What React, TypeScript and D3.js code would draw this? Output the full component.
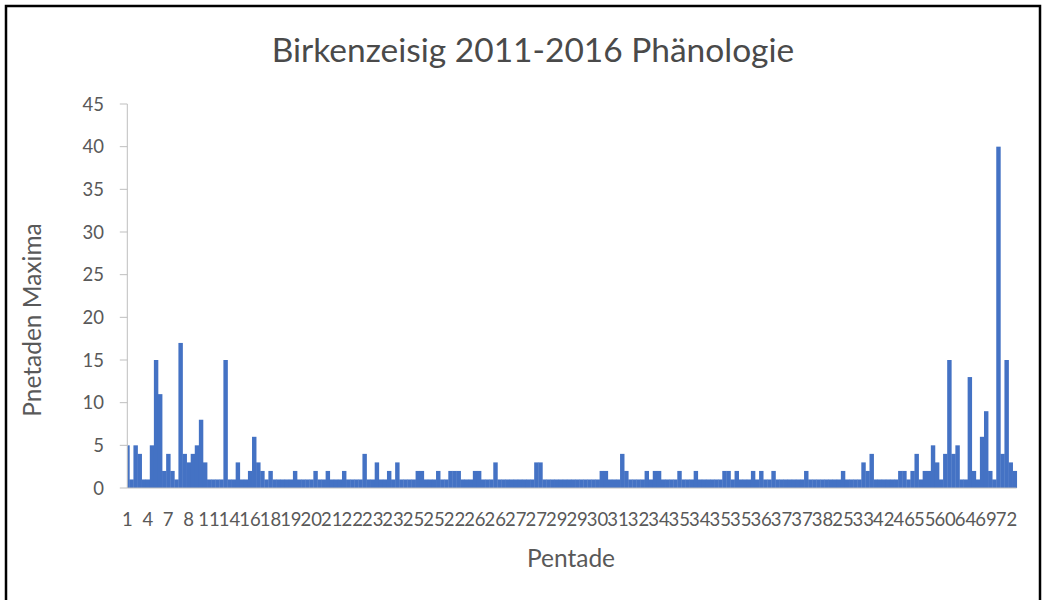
import React from 'react';
import * as d3 from 'd3';

// Pentade maxima, one value per category (bars)
const maxima: number[] = [
  5, 1, 5, 4, 1, 1, 5, 15, 11, 2,
  4, 2, 1, 17, 4, 3, 4, 5, 8, 3,
  1, 1, 1, 1, 15, 1, 1, 3, 1, 1,
  2, 6, 3, 2, 1, 2, 1, 1, 1, 1,
  1, 2, 1, 1, 1, 1, 2, 1, 1, 2,
  1, 1, 1, 2, 1, 1, 1, 1, 4, 1,
  1, 3, 1, 1, 2, 1, 3, 1, 1, 1,
  1, 2, 2, 1, 1, 1, 2, 1, 1, 2,
  2, 2, 1, 1, 1, 2, 2, 1, 1, 1,
  3, 1, 1, 1, 1, 1, 1, 1, 1, 1,
  3, 3, 1, 1, 1, 1, 1, 1, 1, 1,
  1, 1, 1, 1, 1, 1, 2, 2, 1, 1,
  1, 4, 2, 1, 1, 1, 1, 2, 1, 2,
  2, 1, 1, 1, 1, 2, 1, 1, 1, 2,
  1, 1, 1, 1, 1, 1, 2, 2, 1, 2,
  1, 1, 1, 2, 1, 2, 1, 1, 2, 1,
  1, 1, 1, 1, 1, 1, 2, 1, 1, 1,
  1, 1, 1, 1, 1, 2, 1, 1, 1, 1,
  3, 2, 4, 1, 1, 1, 1, 1, 1, 2,
  2, 1, 2, 4, 1, 2, 2, 5, 3, 1,
  4, 15, 4, 5, 1, 1, 13, 2, 1, 6,
  9, 2, 1, 40, 4, 15, 3, 2,
];

// Category labels shown on the x axis (every 5th category)
const pentadeTickLabels: string[] = [
  '1', '4', '7', '8', '11', '14', '16', '18', '19', '20',
  '21', '22', '23', '23', '25', '25', '22', '26', '26', '27',
  '27', '29', '29', '30', '31', '32', '34', '35', '34', '35',
  '35', '36', '37', '37', '38', '25', '33', '42', '46', '55',
  '60', '64', '69', '72',
];
const labelEvery = 5;

const yTicks: number[] = [0, 5, 10, 15, 20, 25, 30, 35, 40, 45];

const title = 'Birkenzeisig 2011-2016 Phänologie';
const xTitle = 'Pentade';
const yTitle = 'Pnetaden Maxima';

export default function App() {
  const W = 1045;
  const H = 600;
  const plotLeft = 127.3;
  const plotRight = 1016.7;
  const plotTop = 104;
  const plotBottom = 488;
  const n = maxima.length;
  const step = (plotRight - plotLeft) / (n - 0.5);
  const x = d3.scaleLinear().domain([0, n - 1]).range([plotLeft, plotLeft + step * (n - 1)]);
  const y = d3.scaleLinear().domain([0, 45]).range([plotBottom, plotTop]);
  const font = 'Lato, "Open Sans", sans-serif';
  const grey = '#595959';
  const axisColor = '#BFBFBF';

  return (
    <svg
      width={W}
      height={H}
      style={{ position: 'absolute', left: 0, top: 0, background: '#fff' }}
      fontFamily={font}
    >
      <rect x={0} y={0} width={W} height={H} fill="#fff" />
      <rect x={6} y={6} width={1034} height={610} fill="none" stroke="#000" strokeWidth={2.5} />
      <defs>
        <clipPath id="plotClip">
          <rect x={plotLeft} y={0} width={plotRight - plotLeft + 2} height={plotBottom} />
        </clipPath>
      </defs>
      <text x={533} y={62} textAnchor="middle" fontSize={33.5} fill="#4a4a4a">
        {title}
      </text>
      <g clipPath="url(#plotClip)">
        {maxima.map((v, i) => (
          <rect
            key={i}
            x={x(i) - step / 2}
            y={y(v)}
            width={step + 0.35}
            height={plotBottom - y(v)}
            fill="#4472C4"
          />
        ))}
      </g>
      {/* y axis */}
      <line x1={plotLeft} x2={plotLeft} y1={plotTop} y2={plotBottom} stroke={axisColor} strokeWidth={1} />
      {yTicks.map((t) => (
        <g key={t}>
          <line x1={plotLeft - 7.5} x2={plotLeft} y1={y(t)} y2={y(t)} stroke={axisColor} strokeWidth={1} />
          <text x={104} y={y(t)} dy="0.36em" textAnchor="end" fontSize={18.5} fill={grey}>
            {t}
          </text>
        </g>
      ))}
      {/* x axis */}
      <line x1={plotLeft} x2={plotRight} y1={plotBottom} y2={plotBottom} stroke={axisColor} strokeWidth={1} />
      {pentadeTickLabels.map((lab, k) => (
        <text key={k} x={x(k * labelEvery)} y={526} textAnchor="middle" fontSize={18.5} fill={grey}>
          {lab}
        </text>
      ))}
      <text x={571} y={567} textAnchor="middle" fontSize={24.5} fill={grey}>
        {xTitle}
      </text>
      <text
        transform={`translate(41, 320) rotate(-90)`}
        textAnchor="middle"
        fontSize={24.5}
        fill={grey}
      >
        {yTitle}
      </text>
    </svg>
  );
}
